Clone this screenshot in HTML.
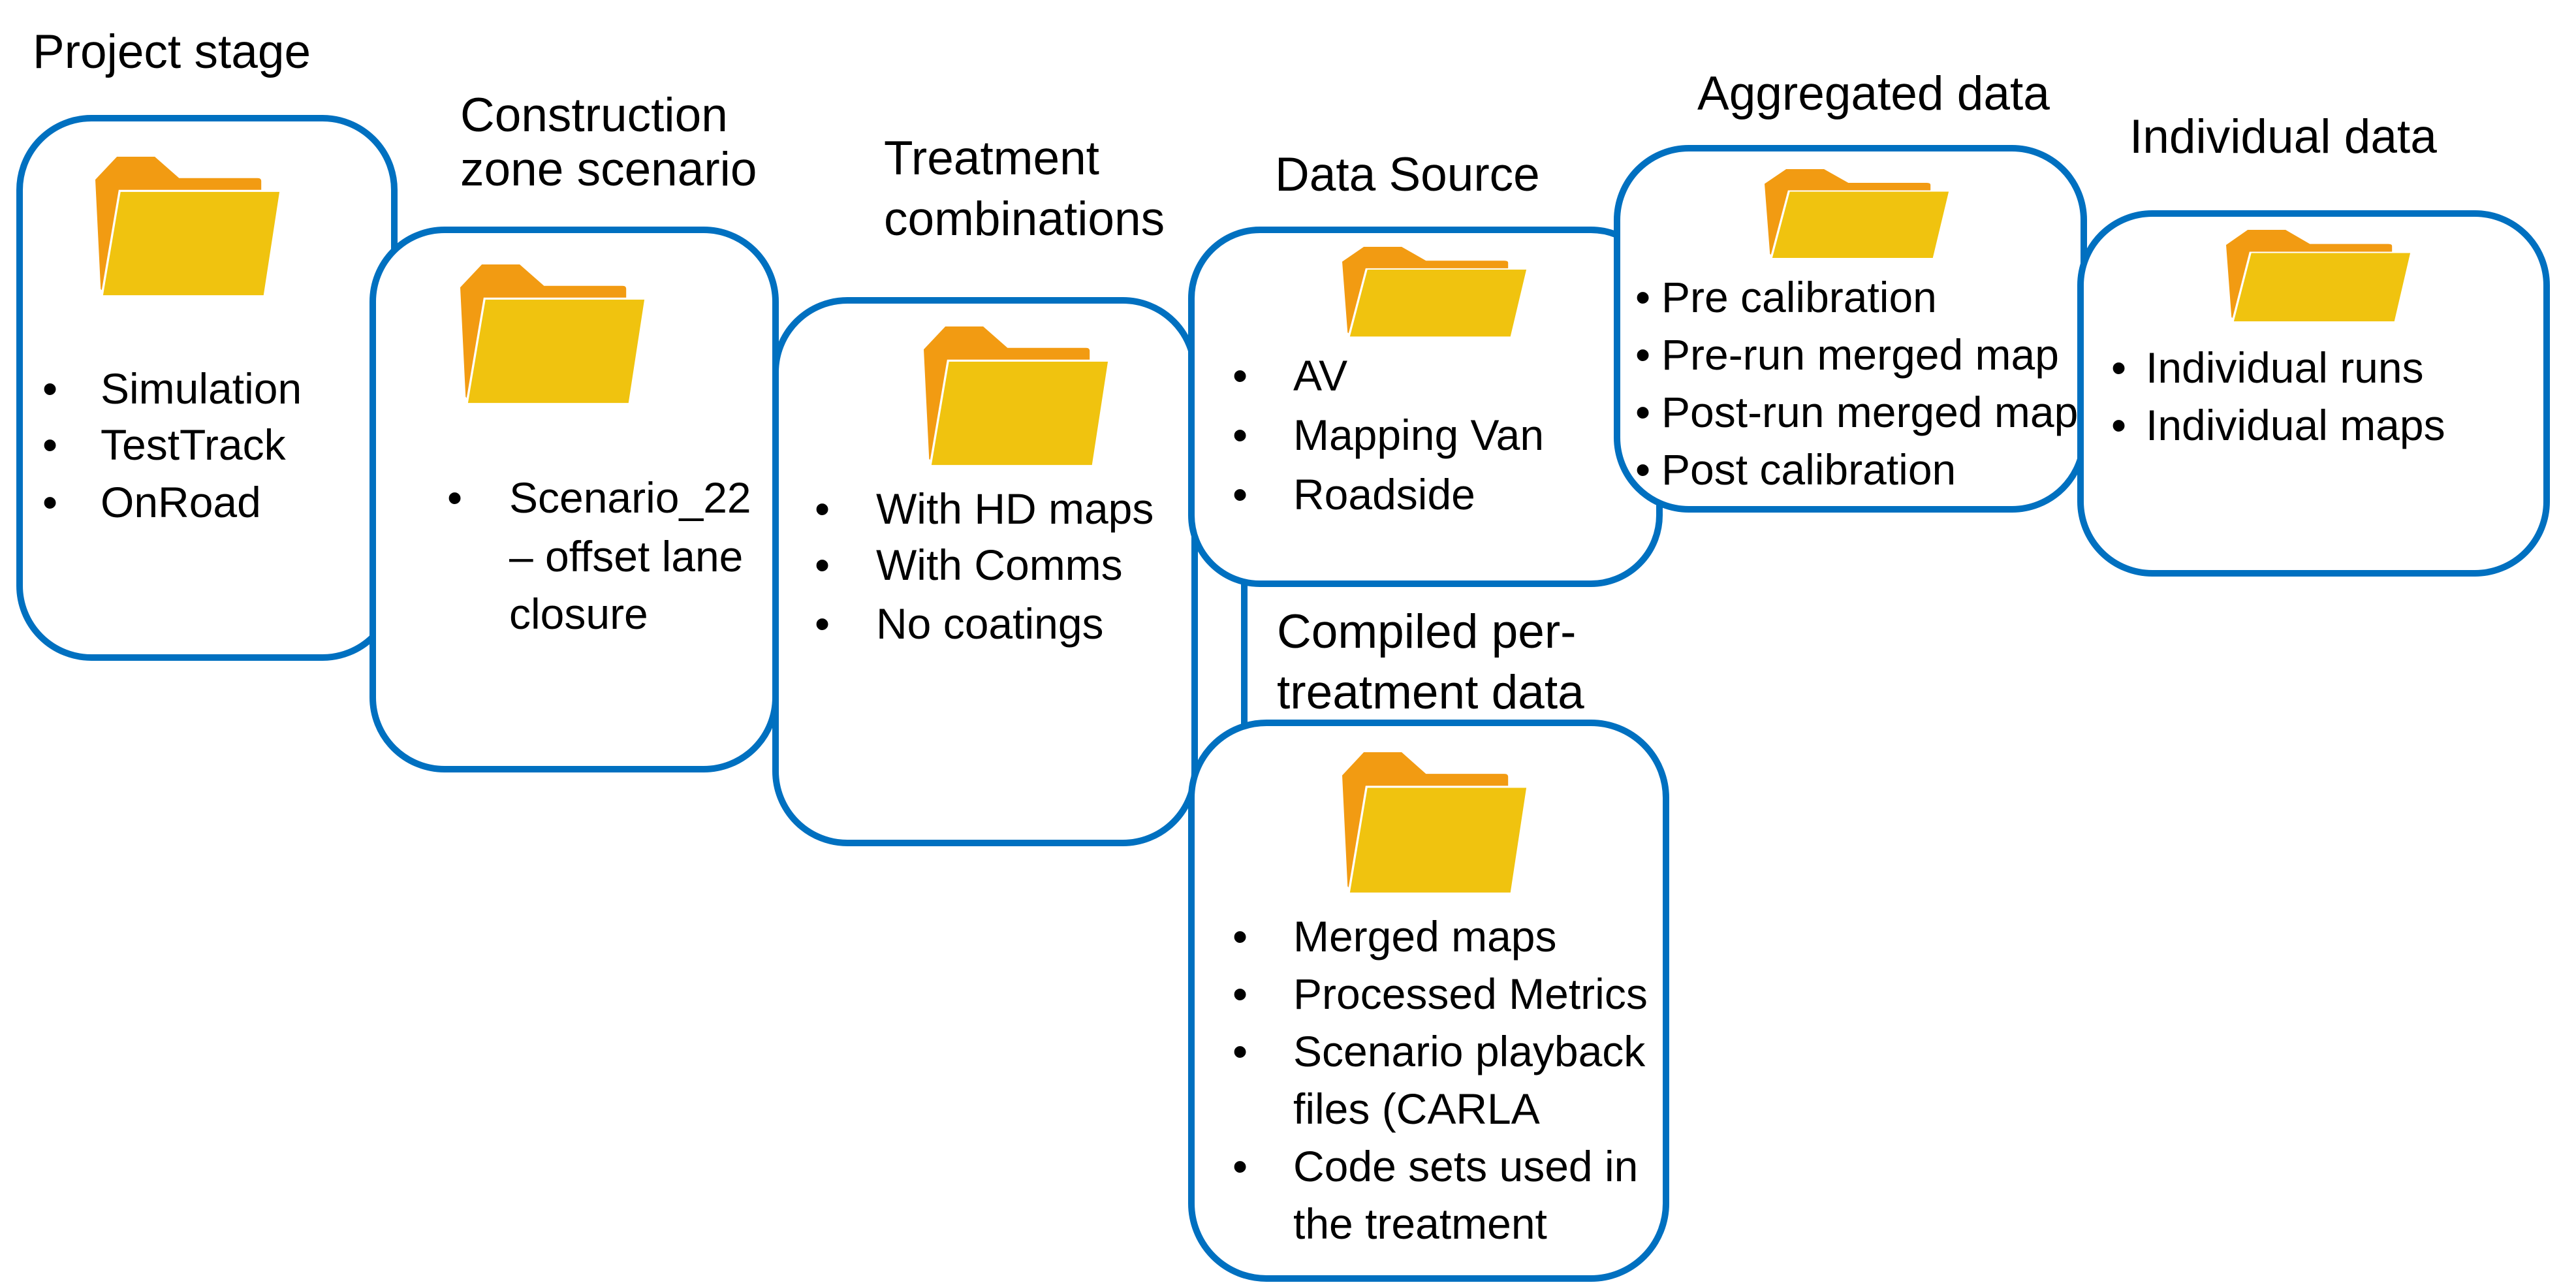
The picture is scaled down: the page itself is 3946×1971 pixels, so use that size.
<!DOCTYPE html>
<html><head><meta charset="utf-8"><style>
html,body{margin:0;padding:0;background:#fff;}
svg{display:block;}
text{font-family:"Liberation Sans",Arial,sans-serif;font-size:66px;fill:#000;}
.t{font-size:73px;}
</style></head><body>
<svg width="3946" height="1971" viewBox="0 0 3946 1971" xmlns="http://www.w3.org/2000/svg">
<g stroke="#0070C0" stroke-width="10" fill="#fff">
<rect x="30" y="181" width="574" height="826" rx="110"/>
</g>
<g transform="translate(146,240) scale(0.828,0.78)"><path d="M10,260 L0,45 L40,0 L110,0 L155,42 L300,42 Q307,42 307,48 L307,67 L45,67 L12,262 Z" fill="#F29B12"/><path d="M45,67 L343,67 L313,274 L12,274 Z" fill="#F0C30F" stroke="#fff" stroke-width="4"/></g>
<text x="65" y="618">•</text><text x="154" y="618">Simulation</text>
<text x="65" y="704">•</text><text x="154" y="704">TestTrack</text>
<text x="65" y="792">•</text><text x="154" y="792">OnRoad</text>
<text class="t" x="50" y="104">Project stage</text>

<rect x="571" y="352" width="617" height="826" rx="110" stroke="#0070C0" stroke-width="10" fill="#fff"/>
<g transform="translate(705,405) scale(0.828,0.78)"><path d="M10,260 L0,45 L40,0 L110,0 L155,42 L300,42 Q307,42 307,48 L307,67 L45,67 L12,262 Z" fill="#F29B12"/><path d="M45,67 L343,67 L313,274 L12,274 Z" fill="#F0C30F" stroke="#fff" stroke-width="4"/></g>
<text x="685" y="785">•</text><text x="780" y="785">Scenario_22</text>
<text x="780" y="875">– offset lane</text>
<text x="780" y="963">closure</text>
<text class="t" x="705" y="201">Construction</text>
<text class="t" x="705" y="284">zone scenario</text>

<rect x="1188" y="460" width="642" height="831" rx="110" stroke="#0070C0" stroke-width="10" fill="#fff"/>
<g transform="translate(1415,500) scale(0.828,0.78)"><path d="M10,260 L0,45 L40,0 L110,0 L155,42 L300,42 Q307,42 307,48 L307,67 L45,67 L12,262 Z" fill="#F29B12"/><path d="M45,67 L343,67 L313,274 L12,274 Z" fill="#F0C30F" stroke="#fff" stroke-width="4"/></g>
<text x="1248" y="802">•</text><text x="1342" y="802">With HD maps</text>
<text x="1248" y="888">•</text><text x="1342" y="888">With Comms</text>
<text x="1248" y="978">•</text><text x="1342" y="978">No coatings</text>
<text class="t" x="1354" y="267">Treatment</text>
<text class="t" x="1354" y="360">combinations</text>

<line x1="1906" y1="890" x2="1906" y2="1112" stroke="#0070C0" stroke-width="10"/>

<rect x="1825" y="352" width="717" height="542" rx="105" stroke="#0070C0" stroke-width="10" fill="#fff"/>
<g transform="translate(2056,378) scale(0.828,0.505)"><path d="M10,260 L0,45 L40,0 L110,0 L155,42 L300,42 Q307,42 307,48 L307,67 L45,67 L12,262 Z" fill="#F29B12"/><path d="M45,67 L343,67 L313,274 L12,274 Z" fill="#F0C30F" stroke="#fff" stroke-width="4"/></g>
<text x="1888" y="598">•</text><text x="1981" y="598">AV</text>
<text x="1888" y="689">•</text><text x="1981" y="689">Mapping Van</text>
<text x="1888" y="780">•</text><text x="1981" y="780">Roadside</text>
<text class="t" x="1953" y="292">Data Source</text>

<rect x="2477" y="227" width="715" height="553" rx="110" stroke="#0070C0" stroke-width="10" fill="#fff"/>
<g transform="translate(2703,259) scale(0.828,0.5)"><path d="M10,260 L0,45 L40,0 L110,0 L155,42 L300,42 Q307,42 307,48 L307,67 L45,67 L12,262 Z" fill="#F29B12"/><path d="M45,67 L343,67 L313,274 L12,274 Z" fill="#F0C30F" stroke="#fff" stroke-width="4"/></g>
<text x="2505" y="478">•</text><text x="2545" y="478">Pre calibration</text>
<text x="2505" y="566">•</text><text x="2545" y="566">Pre-run merged map</text>
<text x="2505" y="654">•</text><text x="2545" y="654">Post-run merged map</text>
<text x="2505" y="742">•</text><text x="2545" y="742">Post calibration</text>
<text class="t" x="2600" y="168">Aggregated data</text>

<rect x="3187" y="327" width="714" height="551" rx="110" stroke="#0070C0" stroke-width="10" fill="#fff"/>
<g transform="translate(3410,352) scale(0.828,0.515)"><path d="M10,260 L0,45 L40,0 L110,0 L155,42 L300,42 Q307,42 307,48 L307,67 L45,67 L12,262 Z" fill="#F29B12"/><path d="M45,67 L343,67 L313,274 L12,274 Z" fill="#F0C30F" stroke="#fff" stroke-width="4"/></g>
<text x="3234" y="586">•</text><text x="3287" y="586">Individual runs</text>
<text x="3234" y="674">•</text><text x="3287" y="674">Individual maps</text>
<text class="t" x="3262" y="234">Individual data</text>

<rect x="1825" y="1107" width="727" height="851" rx="115" stroke="#0070C0" stroke-width="10" fill="#fff"/>
<g transform="translate(2056,1152) scale(0.828,0.79)"><path d="M10,260 L0,45 L40,0 L110,0 L155,42 L300,42 Q307,42 307,48 L307,67 L45,67 L12,262 Z" fill="#F29B12"/><path d="M45,67 L343,67 L313,274 L12,274 Z" fill="#F0C30F" stroke="#fff" stroke-width="4"/></g>
<text x="1888" y="1457">•</text><text x="1981" y="1457">Merged maps</text>
<text x="1888" y="1545">•</text><text x="1981" y="1545">Processed Metrics</text>
<text x="1888" y="1633">•</text><text x="1981" y="1633">Scenario playback</text>
<text x="1981" y="1721">files (CARLA</text>
<text x="1888" y="1809">•</text><text x="1981" y="1809">Code sets used in</text>
<text x="1981" y="1897">the treatment</text>
<text class="t" x="1956" y="992">Compiled per-</text>
<text class="t" x="1956" y="1085">treatment data</text>
</svg>
</body></html>
